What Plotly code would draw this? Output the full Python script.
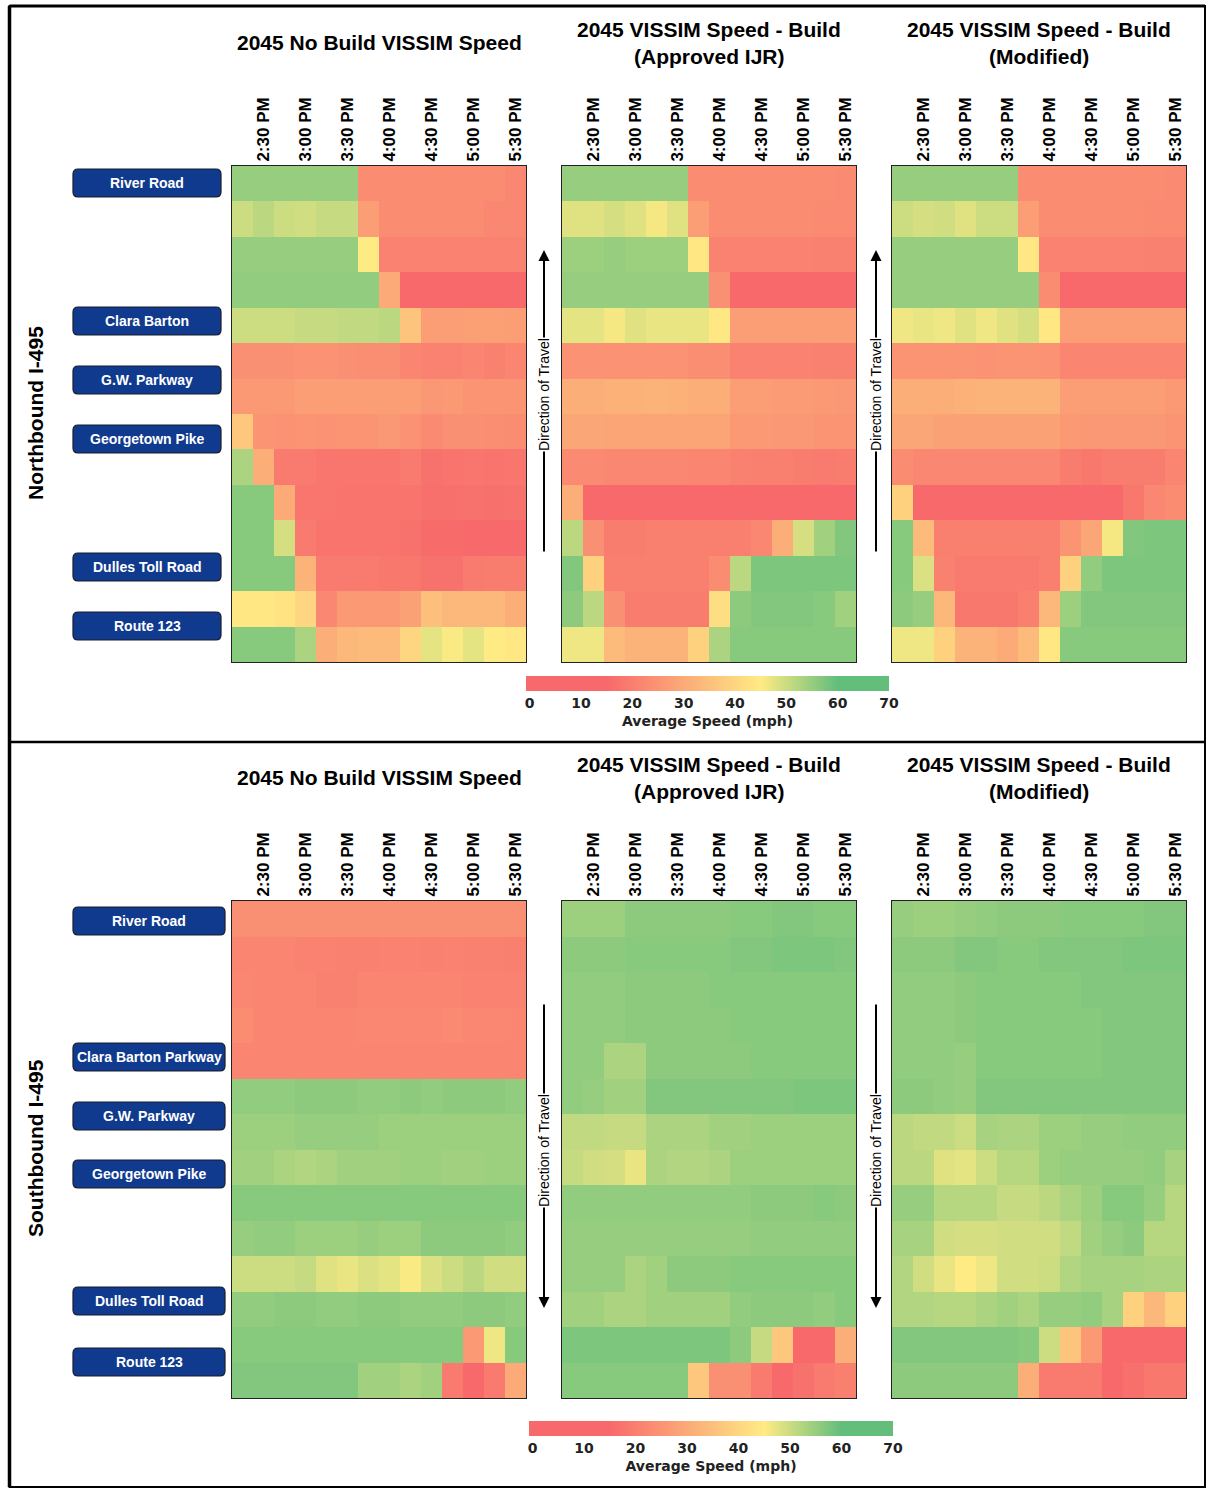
import plotly.graph_objects as go

W, H = 1206, 1489
def px(x): return x / W
def py(y): return 1 - y / H

# ---------------- data ----------------
times = ["2:15 PM", "2:30 PM", "2:45 PM", "3:00 PM", "3:15 PM", "3:30 PM", "3:45 PM",
         "4:00 PM", "4:15 PM", "4:30 PM", "4:45 PM", "5:00 PM", "5:15 PM", "5:30 PM"]
time_ticks = ["2:30 PM", "3:00 PM", "3:30 PM", "4:00 PM", "4:30 PM", "5:00 PM", "5:30 PM"]
segments = list(range(1, 15))

panel_titles = ["2045 No Build VISSIM Speed",
                "2045 VISSIM Speed - Build<br>(Approved IJR)",
                "2045 VISSIM Speed - Build<br>(Modified)"]

nb_labels = ["River Road", "Clara Barton", "G.W. Parkway", "Georgetown Pike", "Dulles Toll Road", "Route 123"]
sb_labels = ["River Road", "Clara Barton Parkway", "G.W. Parkway", "Georgetown Pike", "Dulles Toll Road", "Route 123"]

nb_no_build = [
    [55, 55, 55, 55, 55, 55, 23, 23, 23, 23, 23, 23, 23, 22],
    [50, 51.5, 50, 49.5, 50.5, 50.5, 27, 23, 23, 23, 23, 23, 22, 22],
    [55, 55, 55, 55, 55, 55, 45, 21, 21, 21, 21, 21, 21, 21],
    [55.5, 55.5, 55.5, 55.5, 55.5, 55.5, 55.5, 30, 14, 14, 14, 14, 14, 14],
    [50, 50, 50, 50.5, 50.5, 51, 51, 51.5, 36, 27, 27, 27.5, 27.5, 27],
    [24, 24, 24, 24.5, 24.5, 24, 23.5, 23.5, 21.5, 21, 21, 21.5, 20.5, 21.5],
    [26, 26, 26, 27, 27, 27, 27, 27, 27, 25.5, 26, 25, 25, 25],
    [37, 25, 24.5, 25, 24.5, 25, 25, 25.5, 24.5, 22.5, 24, 24, 23.5, 23],
    [53, 31, 19, 19, 18, 18, 18, 18, 19, 17, 17.5, 18, 17.5, 18],
    [56.5, 56.5, 30, 18, 18, 17.5, 17.5, 17.5, 17.5, 16.5, 16.5, 17, 16.5, 17],
    [56.5, 56.5, 49, 19, 17.5, 17.5, 17.5, 17.5, 17, 15.5, 15.5, 15, 14.5, 14],
    [56.5, 56.5, 56.5, 32, 19, 19, 19, 18.5, 18.5, 17, 17, 19, 19.5, 19.5],
    [44, 44, 43, 40, 22, 26, 26, 26, 28, 35, 33, 33, 33, 31],
    [56.5, 56.5, 56.5, 53, 31, 33, 34, 34, 40, 47.5, 45.5, 47.5, 45, 44],
]
nb_approved = [
    [55, 55, 55, 55, 55, 55, 23, 23, 23, 23, 23, 23, 23, 22.5],
    [48, 48, 49, 48, 46, 48, 27, 23, 23, 23, 23, 23, 22.5, 22.5],
    [54.5, 54.5, 55, 54.5, 54.5, 54.5, 44, 21, 21, 21, 21, 21, 20.5, 20.5],
    [55, 55, 55, 55, 55, 55, 55, 24, 14, 14, 14, 14, 14, 14],
    [47.5, 47.5, 46, 48, 47, 47, 47, 44, 27, 27, 27, 27, 27, 27],
    [24.5, 24.5, 24.5, 24.5, 24.5, 24.5, 23.5, 23.5, 21, 21, 21, 21, 20.5, 20.5],
    [31, 31, 31.5, 31.5, 32, 31.5, 31, 31, 27, 27, 26.5, 26.5, 26, 25.5],
    [29, 29, 28.5, 28.5, 28.5, 28.5, 28.5, 28.5, 26, 26, 25.5, 25.5, 25, 25],
    [22.5, 22.5, 22, 22, 22, 22, 21.5, 21.5, 20.5, 20, 20, 19.5, 19, 19.5],
    [31, 14.5, 14.5, 14.5, 14.5, 14.5, 15, 15, 14.5, 14, 14, 14, 14, 14],
    [51.5, 24, 19.5, 19.5, 20, 20, 20, 20, 20, 22, 31, 49, 54, 57],
    [57, 39, 20, 20, 20, 20, 20, 23, 51.5, 57.5, 57.5, 57.5, 57.5, 57.5],
    [56, 51.5, 24, 19.5, 19.5, 19.5, 19.5, 42, 56, 57, 57, 57, 56.5, 54],
    [46.5, 46.5, 34, 32, 32, 32, 39, 53, 56.5, 56.5, 56.5, 56.5, 56.5, 56.5],
]
nb_modified = [
    [55, 55, 55, 55, 55, 55, 23, 23, 23, 23, 23, 23, 23, 22.5],
    [50, 49, 49.5, 48, 50, 50, 27, 23, 23, 23, 23, 23, 22.5, 22.5],
    [55, 55, 55, 55, 55, 55, 44, 21, 21, 21, 21, 21, 20.5, 20.5],
    [55, 55, 55, 55, 55, 55, 55, 23, 14, 14, 14, 14, 14, 14],
    [46.5, 47, 46.5, 48, 46.5, 48, 49, 44, 27, 27, 27, 27, 27, 27],
    [25, 25, 25, 25, 24.5, 25, 25, 24.5, 21.5, 21.5, 21.5, 21.5, 21.5, 21.5],
    [31, 31, 31, 31.5, 32, 32, 32, 32, 27, 27, 27, 27, 27, 26],
    [29, 29, 28, 28, 28, 28, 28, 28, 26, 25.5, 25.5, 25.5, 25.5, 25],
    [23, 22, 22, 22, 22, 22, 22, 22, 19.5, 18.5, 19.5, 19.5, 19.5, 21.5],
    [39, 15, 15, 15, 15, 15, 15, 15, 14, 13, 14.5, 18.5, 22, 23],
    [56.5, 34, 20, 20, 20, 20, 20, 20, 25, 29, 46, 57, 57.5, 57.5],
    [56.5, 48.5, 20.5, 19, 19, 19, 19, 20, 39, 55.5, 57.5, 57.5, 57.5, 57.5],
    [56, 55, 33, 18.5, 18.5, 18.5, 20, 33, 54.5, 57, 57, 57, 57, 57],
    [46.5, 46.5, 39, 32, 32, 30, 34, 44, 56.5, 56.5, 56.5, 56.5, 56.5, 56.5],
]
sb_no_build = [
    [24, 24, 24, 24, 24, 24, 24, 24, 24, 24, 24, 24, 24, 24],
    [21.5, 21.5, 21.5, 21, 21, 20.5, 20.5, 21, 21, 20.5, 21, 20.5, 20.5, 20],
    [22, 21.5, 21.5, 21.5, 20.5, 20.5, 21.5, 21.5, 21.5, 21.5, 21.5, 21, 21, 21],
    [23, 21.5, 21.5, 21.5, 21.5, 21.5, 22, 22, 22, 22, 22.5, 22, 22, 21.5],
    [21.5, 21.5, 21.5, 21.5, 21.5, 21.5, 21.5, 21.5, 21.5, 21.5, 21.5, 21.5, 21.5, 21.5],
    [55.5, 55.5, 55.5, 56, 56, 56, 55.5, 55.5, 56, 55.5, 56, 56, 56, 55.5],
    [54.5, 54.5, 54.5, 55, 55, 55, 55, 54.5, 54.5, 54.5, 54.5, 54.5, 54.5, 54.5],
    [54, 54, 53, 52.5, 53, 54, 54, 54, 54.5, 54.5, 54, 54, 54.5, 54.5],
    [56.5, 56.5, 56.5, 56.5, 56.5, 56.5, 56.5, 56.5, 56.5, 56.5, 56.5, 56.5, 56.5, 56.5],
    [55, 55.5, 55.5, 54.5, 54.5, 54.5, 55, 54.5, 54.5, 56, 56, 56, 56, 55.5],
    [50, 50, 50, 50.5, 48, 47, 48.5, 47.5, 45.5, 48.5, 50, 51.5, 49.5, 49.5],
    [55.5, 55.5, 56, 56, 55.5, 55.5, 56, 56, 55.5, 55.5, 55.5, 56, 56, 55.5],
    [56.5, 56.5, 56.5, 56.5, 56.5, 56.5, 56.5, 56.5, 56.5, 56.5, 56.5, 26, 46.5, 56.5],
    [57, 57, 57, 57, 57, 57, 54, 54, 53, 54, 19, 15, 19, 30],
]
sb_approved = [
    [54.5, 54.5, 54.5, 56, 56, 56, 56, 56, 56.5, 56.5, 57, 57, 56.5, 56.5],
    [56, 56, 56, 56.5, 56.5, 56.5, 56.5, 56.5, 57, 57, 57.5, 57.5, 57.5, 57],
    [55.5, 55.5, 55.5, 56, 56, 56, 56, 56.5, 56.5, 56.5, 56.5, 56.5, 56.5, 56.5],
    [55.5, 55.5, 55.5, 56, 56, 56, 56, 56, 56.5, 56.5, 56.5, 56.5, 56.5, 56.5],
    [55.5, 55.5, 53, 53, 56, 56, 56, 56, 56, 56.5, 56.5, 56.5, 56.5, 56.5],
    [55.5, 55, 54, 54, 57, 57, 57, 57, 57, 57, 57, 57.5, 57.5, 57.5],
    [51, 51, 50.5, 50.5, 53, 53, 53, 54, 54, 54.5, 54.5, 54.5, 54.5, 54.5],
    [50.5, 49.5, 49, 47, 53, 52.5, 52.5, 53, 54.5, 54.5, 54.5, 54.5, 54.5, 54.5],
    [55.5, 55.5, 55.5, 55.5, 55.5, 55.5, 55.5, 55.5, 55.5, 56, 56, 56, 56.5, 56],
    [55, 55, 55, 55, 55, 55, 55, 55, 55, 55.5, 55.5, 55.5, 55.5, 55.5],
    [55, 55, 55, 53, 54, 56, 56, 56, 56.5, 56.5, 56.5, 56.5, 56.5, 56.5],
    [54, 54, 53, 53, 54, 54, 54, 54, 55.5, 56, 56, 56, 55.5, 56.5],
    [57.5, 57.5, 57.5, 57.5, 57.5, 57.5, 57.5, 57.5, 56, 50.5, 37, 13.5, 13.5, 31],
    [56.5, 56.5, 56.5, 56.5, 56.5, 56.5, 37, 24, 24, 19, 14, 17, 19, 20],
]
sb_modified = [
    [55, 54.5, 54.5, 55, 55.5, 56, 56, 56, 56.5, 56.5, 56.5, 56.5, 57, 57],
    [56, 56, 56, 57, 57, 56.5, 56.5, 57, 57, 57, 57, 57.5, 57.5, 57.5],
    [55.5, 55.5, 55.5, 56, 56.5, 56.5, 56.5, 56.5, 56.5, 57, 57, 57, 57, 57],
    [55.5, 55.5, 55.5, 56, 56.5, 56.5, 56.5, 56.5, 56.5, 56.5, 57, 57, 57, 57],
    [55.5, 55.5, 55.5, 55, 56.5, 56.5, 56.5, 56.5, 56.5, 56.5, 57, 57, 57, 57],
    [56, 56, 55.5, 55, 57, 57, 57, 57, 57, 57, 57, 57, 57, 57],
    [51.5, 51, 51, 50, 53.5, 53, 53, 54.5, 54.5, 55, 55, 55.5, 55.5, 55.5],
    [51.5, 51.5, 48, 47.5, 50, 52, 52, 54.5, 55, 55, 55, 55, 55.5, 53.5],
    [55, 55, 52, 52, 52, 50.5, 50.5, 51.5, 53, 54.5, 56.5, 56.5, 55, 52],
    [53.5, 53.5, 49.5, 49, 49, 49.5, 49.5, 49.5, 51, 54, 55, 56, 52, 52],
    [52.5, 49.5, 47, 45, 46.5, 49.5, 49.5, 50, 52.5, 53.5, 53.5, 53.5, 53, 53],
    [52.5, 52.5, 52, 52, 53, 54, 53, 55, 55, 55.5, 53.5, 39, 33, 39],
    [57, 57, 57, 57, 57, 57, 56.5, 50, 36, 26, 14.5, 14, 14, 14],
    [56, 56, 56, 56, 56, 56, 31, 19, 19, 19, 14.5, 16.5, 18.5, 18.5],
]

colorbar_ticks = [0, 10, 20, 30, 40, 50, 60, 70]

# ---------------- styling / layout ----------------
CMIN, CMAX = -0.7, 70
def norm(v): return (v - CMIN) / (CMAX - CMIN)
colorscale = [[0, "#F8696B"], [norm(15), "#F8696B"], [norm(45), "#FFEB84"],
              [norm(60), "#63BE7B"], [1, "#63BE7B"]]

BOLD = "Liberation Sans"

col_x = [(232, 526), (562, 856), (892, 1186)]
sections = [
    dict(data=[nb_no_build, nb_approved, nb_modified], y=(166, 662), cax="coloraxis",
         labels=nb_labels, label_y=[183, 321, 380, 439, 567, 626], label_x=(73, 221),
         name="Northbound I-495", name_y=413, title_y=(42, 29, 56),
         arrow=(250, 553), arrow_text_y=395, cbar_y=676, cbar_x=(526, 889)),
    dict(data=[sb_no_build, sb_approved, sb_modified], y=(901, 1398), cax="coloraxis2",
         labels=sb_labels, label_y=[921, 1057, 1116, 1174, 1301, 1362], label_x=(73, 225),
         name="Southbound I-495", name_y=1148, title_y=(777, 764, 791),
         arrow=(1308, 1003), arrow_text_y=1151, cbar_y=1421, cbar_x=(529, 893)),
]

fig = go.Figure()
layout = dict(width=W, height=H, margin=dict(l=0, r=0, t=0, b=0),
              plot_bgcolor="white", paper_bgcolor="white", showlegend=False)
annotations, shapes = [], []

def rrect(x0, y0, x1, y1, r):
    return (f"M {px(x0 + r)} {py(y0)} L {px(x1 - r)} {py(y0)} "
            f"Q {px(x1)} {py(y0)} {px(x1)} {py(y0 + r)} L {px(x1)} {py(y1 - r)} "
            f"Q {px(x1)} {py(y1)} {px(x1 - r)} {py(y1)} L {px(x0 + r)} {py(y1)} "
            f"Q {px(x0)} {py(y1)} {px(x0)} {py(y1 - r)} L {px(x0)} {py(y0 + r)} "
            f"Q {px(x0)} {py(y0)} {px(x0 + r)} {py(y0)} Z")

def txt(x, y, text, size, bold=True, color="black", angle=0, **kw):
    f = dict(family=BOLD, size=size, color=color)
    if bold:
        f["weight"] = "bold"
    d = dict(x=px(x), y=py(y), xref="paper", yref="paper", text=text, showarrow=False,
             xanchor="center", yanchor="middle", textangle=angle, font=f)
    d.update(kw)
    return d

n = 0
for sec in sections:
    y0, y1 = sec["y"]
    for pi, z in enumerate(sec["data"]):
        n += 1
        xa = "x" if n == 1 else f"x{n}"
        ya = "y" if n == 1 else f"y{n}"
        fig.add_trace(go.Heatmap(z=z, x=times, y=segments, coloraxis=sec["cax"],
                                 xaxis=xa, yaxis=ya, xgap=0, ygap=0))
        x0, x1 = col_x[pi]
        layout["xaxis" if n == 1 else f"xaxis{n}"] = dict(
            domain=[px(x0), px(x1)], anchor=ya, side="top", type="category",
            tickmode="array", tickvals=time_ticks, ticktext=time_ticks, tickangle=-90,
            tickfont=dict(family=BOLD, size=17, color="black", weight="bold"),
            showline=True, mirror=True, linecolor="#222", linewidth=1,
            showgrid=False, zeroline=False, ticks="", fixedrange=True)
        layout["yaxis" if n == 1 else f"yaxis{n}"] = dict(
            domain=[py(y1), py(y0)], anchor=xa, autorange="reversed",
            showticklabels=False, showline=True, mirror=True, linecolor="#222",
            linewidth=1, showgrid=False, zeroline=False, ticks="", fixedrange=True)

        # panel title
        cx = (x0 + x1) / 2
        t = panel_titles[pi]
        if "<br>" in t:
            l1, l2 = t.split("<br>")
            annotations.append(txt(cx, sec["title_y"][1], l1, 21))
            annotations.append(txt(cx, sec["title_y"][2], l2, 21))
        else:
            annotations.append(txt(cx, sec["title_y"][0], t, 21))

    # direction-of-travel arrows between panels
    head, tail = sec["arrow"]
    for ax_x in (544, 876):
        annotations.append(dict(x=px(ax_x), y=py(head), xref="paper", yref="paper",
                                ax=0, ay=tail - head, axref="pixel", ayref="pixel",
                                text="", showarrow=True, arrowhead=2, arrowsize=1.1,
                                arrowwidth=2, arrowcolor="black"))
        annotations.append(txt(ax_x, sec["arrow_text_y"], "Direction of Travel", 14,
                               bold=False, angle=-90, bgcolor="white", borderpad=0))

    # section name
    annotations.append(txt(35, sec["name_y"], sec["name"], 21, angle=-90))

    # interchange buttons
    lx0, lx1 = sec["label_x"]
    for lab, ly in zip(sec["labels"], sec["label_y"]):
        shapes.append(dict(type="path", xref="paper", yref="paper",
                           path=rrect(lx0, ly - 14, lx1, ly + 14, 5),
                           fillcolor="#0F3A8E", line=dict(color="#1b1b2b", width=1.2)))
        annotations.append(txt((lx0 + lx1) / 2, ly, lab, 14, color="white"))

    # colour axis + horizontal colour bar
    cbx0, cbx1 = sec["cbar_x"]
    layout[sec["cax"]] = dict(
        cmin=CMIN, cmax=CMAX, colorscale=colorscale,
        colorbar=dict(orientation="h", x=px((cbx0 + cbx1) / 2), xanchor="center",
                      y=py(sec["cbar_y"]), yanchor="top", len=cbx1 - cbx0, lenmode="pixels",
                      thickness=15, thicknessmode="pixels", outlinewidth=0, xpad=0, ypad=0,
                      tickmode="array", tickvals=colorbar_ticks, ticks="",
                      tickfont=dict(family="DejaVu Sans", size=14, color="#222", weight="bold"),
                      title=dict(text="Average Speed (mph)", side="bottom",
                                 font=dict(family="DejaVu Sans", size=14, color="#222", weight="bold"))))

# outer frame and separator
shapes.append(dict(type="rect", xref="paper", yref="paper", x0=px(9.5), x1=px(1205), y0=py(1487), y1=py(6),
                   line=dict(color="black", width=2)))
shapes.append(dict(type="line", xref="paper", yref="paper", x0=px(9.5), x1=px(9.5), y0=py(1487), y1=py(6),
                   line=dict(color="black", width=3.5)))
shapes.append(dict(type="line", xref="paper", yref="paper", x0=px(9.5), x1=px(1205), y0=py(6), y1=py(6),
                   line=dict(color="black", width=3)))
shapes.append(dict(type="line", xref="paper", yref="paper", x0=px(9.5), x1=px(1205), y0=py(742), y1=py(742),
                   line=dict(color="black", width=2.5)))

layout["annotations"] = annotations
layout["shapes"] = shapes
fig.update_layout(**layout)

fig.write_html("out.html", config={"displayModeBar": False},
               post_script="document.body.style.margin='0';")
